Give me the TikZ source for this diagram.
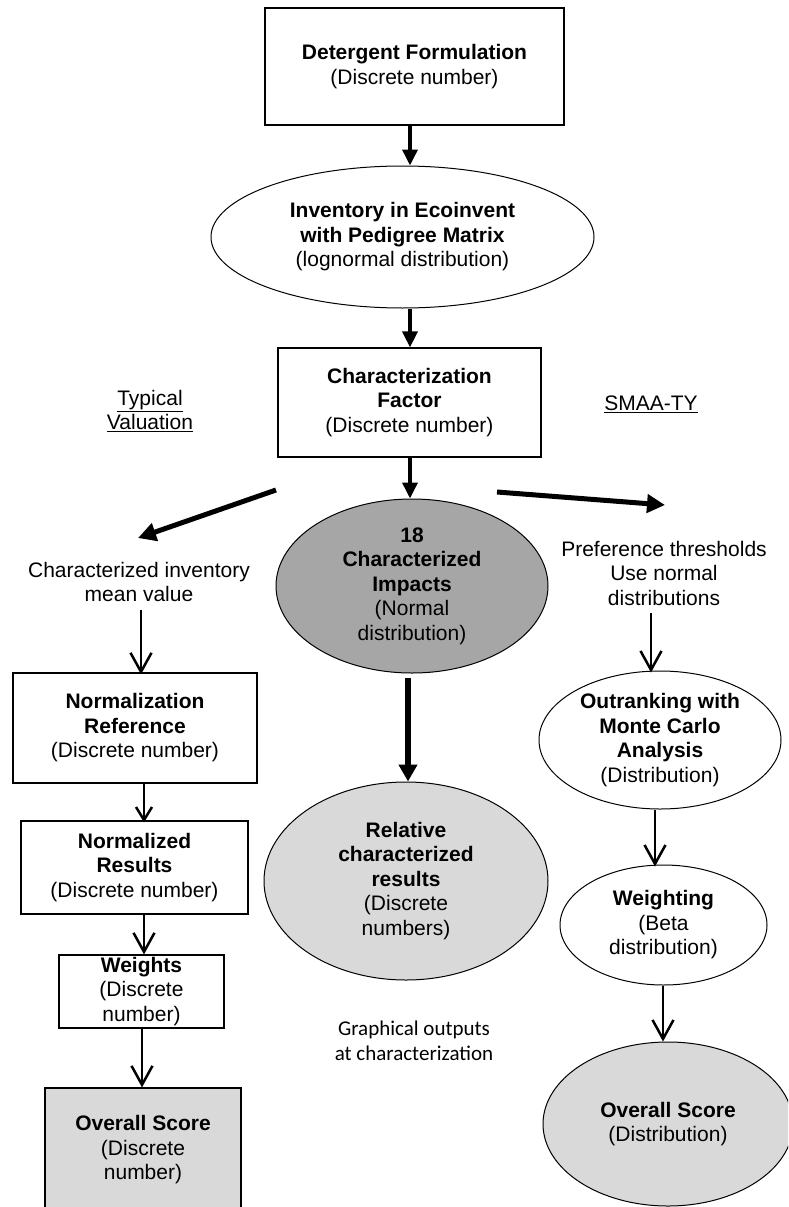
\documentclass[tikz,border=0pt]{standalone}
\usepackage{fontspec}
\setmainfont{Liberation Sans}
\newfontfamily\calfont{Carlito}
\usetikzlibrary{arrows.meta,shapes.geometric}
\tikzset{
  lbl/.style={align=center,inner sep=0pt,font=\fontsize{21}{24.5}\selectfont},
  boxnode/.style={lbl,draw,line width=1.2pt,rectangle},
  ellnode/.style={lbl,draw,line width=1pt,ellipse},
  fatarrow/.style={line width=5pt,-{Triangle[length=18pt,width=18pt]}},
  toparrow/.style={line width=3.6pt,-{Triangle[length=16pt,width=15pt]}},
  midarrow/.style={line width=6pt,-{Triangle[length=17pt,width=18pt]}},
  thinarrow/.style={line width=2.5pt,-{Straight Barb[length=19pt,width=21pt]}},
  smallarrow/.style={line width=2.5pt,-{Straight Barb[length=13pt,width=16pt]}}
}
\begin{document}
\begin{tikzpicture}[x=1pt,y=-1pt]
\useasboundingbox (0,0) rectangle (788,1207);
\clip (0,0) rectangle (788,1207);
\fill[white] (0,0) rectangle (788,1207);

% nodes
\node[boxnode,minimum width=299pt,minimum height=117pt] (det) at (414.5,66.5)
  {\textbf{Detergent Formulation}\\(Discrete number)};
\node[ellnode,minimum width=383pt,minimum height=142pt] (inv) at (402.5,237)
  {\textbf{Inventory in Ecoinvent}\\\textbf{with Pedigree Matrix}\\(lognormal distribution)};
\node[boxnode,minimum width=263pt,minimum height=109pt] (cf) at (409.5,402.5)
  {\textbf{Characterization}\\\textbf{Factor}\\(Discrete number)};
\node[lbl] (typ) at (150,411) {\underline{Typical}\\\underline{Valuation}};
\node[lbl] (smaa) at (651,404) {\underline{SMAA-TY}};
\node[ellnode,fill={rgb,255:red,166;green,166;blue,166},minimum width=272pt,minimum height=174pt] (ci) at (412,586)
  {\textbf{18}\\\textbf{Characterized}\\\textbf{Impacts}\\(Normal\\distribution)};
\node[lbl] (civ) at (139,582) {Characterized inventory\\mean value};
\node[lbl] (pref) at (664,573) {Preference thresholds\\Use normal\\distributions};
\node[boxnode,minimum width=244pt,minimum height=110pt] (norm) at (135,728)
  {\textbf{Normalization}\\\textbf{Reference}\\(Discrete number)};
\node[boxnode,minimum width=227pt,minimum height=93pt] (nres) at (134.5,867.5)
  {\textbf{Normalized}\\\textbf{Results}\\(Discrete number)};
\node[boxnode,minimum width=165pt,minimum height=73pt] (wts) at (141.5,991.5)
  {\textbf{Weights}\\(Discrete\\number)};
\node[boxnode,fill={rgb,255:red,217;green,217;blue,217},minimum width=196pt,minimum height=124pt] (os1) at (143,1150)
  {\textbf{Overall Score}\\(Discrete\\number)};
\node[ellnode,fill={rgb,255:red,217;green,217;blue,217},minimum width=284pt,minimum height=198pt] (rel) at (406,881)
  {\textbf{Relative}\\\textbf{characterized}\\\textbf{results}\\(Discrete\\numbers)};
\node[lbl,font=\calfont\fontsize{21}{25}\selectfont] (graph) at (414,1041)
  {Graphical outputs\\at characterization};
\node[ellnode,minimum width=242pt,minimum height=138pt] (out) at (660,740)
  {\textbf{Outranking with}\\\textbf{Monte Carlo}\\\textbf{Analysis}\\(Distribution)};
\node[ellnode,minimum width=207pt,minimum height=120pt] (wgt) at (663.5,925)
  {\textbf{Weighting}\\(Beta\\distribution)};
\node[ellnode,fill={rgb,255:red,217;green,217;blue,217},minimum width=250pt,minimum height=164pt] (os2) at (668,1124)
  {\textbf{Overall Score}\\(Distribution)};

% helper coordinates
\coordinate (xa) at (410,0);
\coordinate (xc) at (408,0);
\coordinate (xl1) at (141,0);
\coordinate (xl2) at (144,0);
\coordinate (xl3) at (142,0);
\coordinate (xr1) at (651,0);
\coordinate (xr2) at (655,0);
\coordinate (xr3) at (663,0);
\coordinate (dls) at (276,490);
\coordinate (dle) at (138,538);
\coordinate (drs) at (497,492);
\coordinate (dre) at (665,505);

% connectors
\draw[toparrow] (det.south -| xa) -- (inv.north -| xa);
\draw[toparrow] (inv.south -| xa) -- (cf.north -| xa);
\draw[toparrow] (cf.south -| xa) -- (ci.north -| xa);
\draw[fatarrow] (dls) -- (dle);
\draw[fatarrow] (drs) -- (dre);
\draw[midarrow] ([yshift=-4pt]ci.south -| xc) -- (rel.north -| xc);
\draw[thinarrow] ([yshift=-8pt]civ.south -| xl1) -- ([yshift=-2pt]norm.north -| xl1);
\draw[smallarrow] (norm.south -| xl2) -- ([yshift=-2pt]nres.north -| xl2);
\draw[thinarrow] (nres.south -| xl2) -- (wts.north -| xl2);
\draw[thinarrow] (wts.south -| xl3) -- (os1.north -| xl3);
\draw[thinarrow] ([yshift=-8pt]pref.south -| xr1) -- ([yshift=-2pt]out.north -| xr1);
\draw[thinarrow] (out.south -| xr2) -- ([yshift=-2pt]wgt.north -| xr2);
\draw[thinarrow] (wgt.south -| xr3) -- (os2.north -| xr3);
\end{tikzpicture}
\end{document}
